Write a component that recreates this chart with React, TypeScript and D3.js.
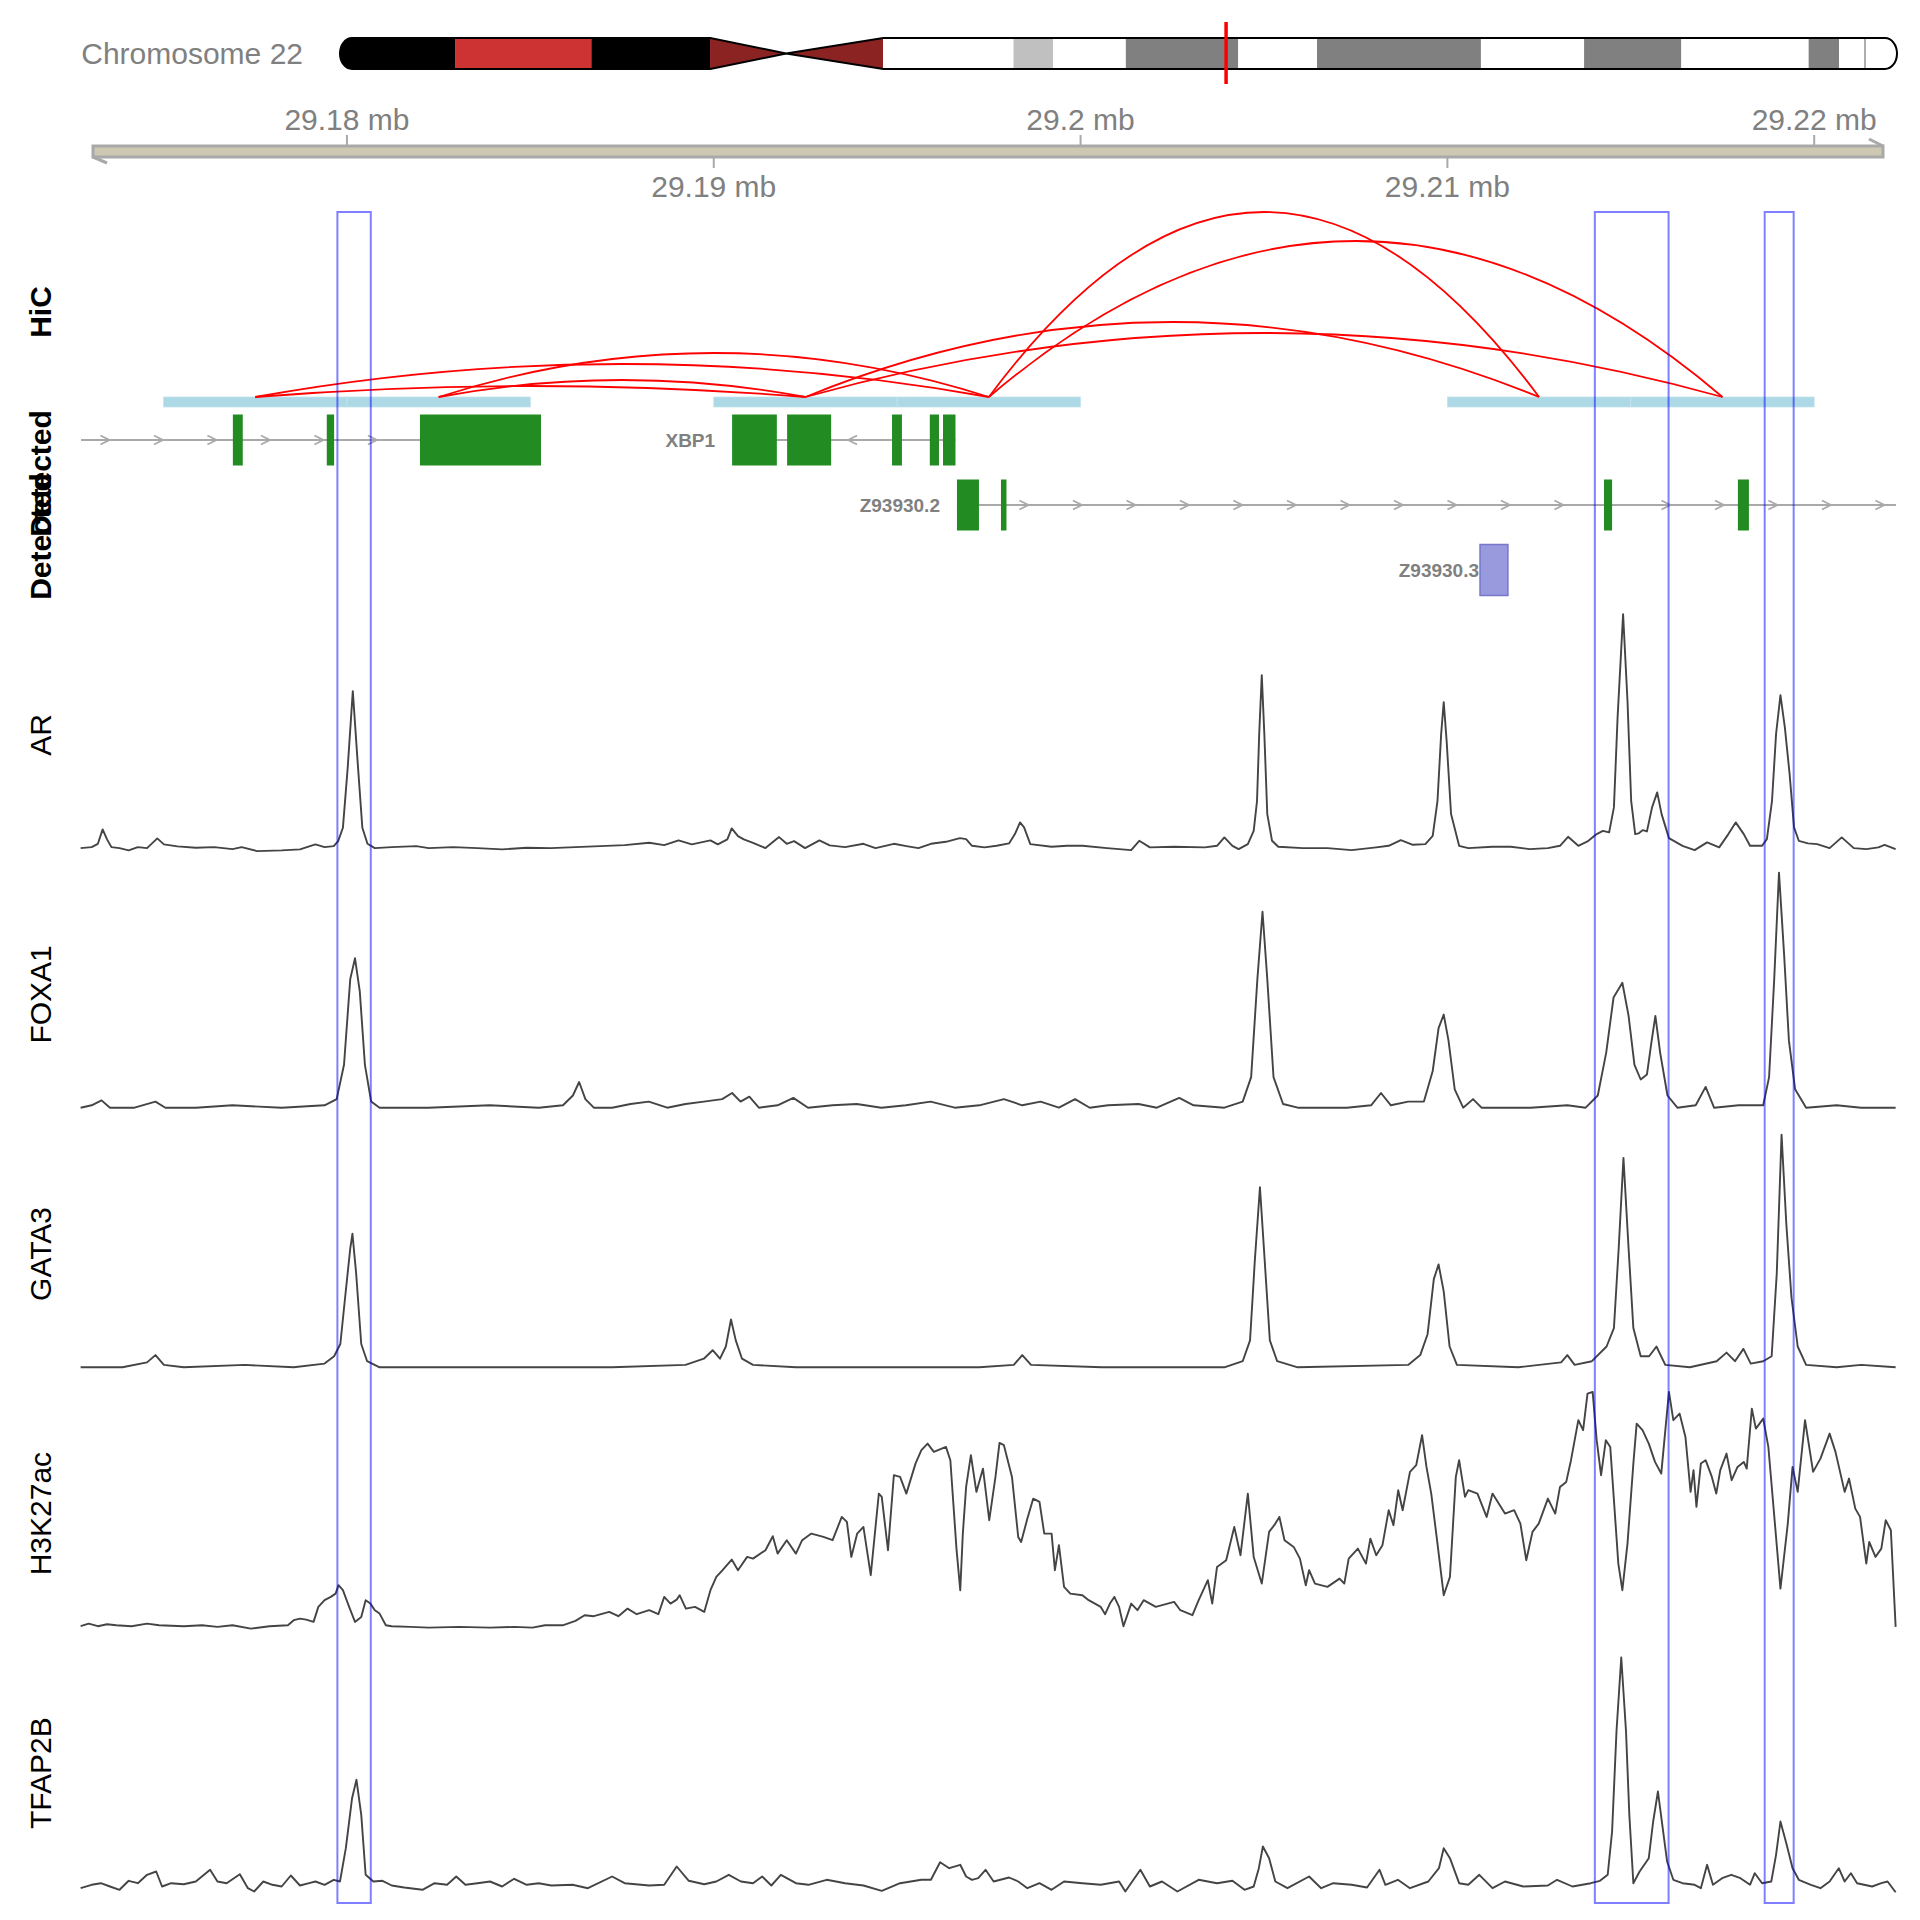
import React from "react";
import * as d3 from "d3";

// ---------------- data ----------------
// genomic window shown (kb on chr22)
const VIEW_START_KB = 29172.75;
const VIEW_END_KB = 29222.23;

// chromosome 22 ideogram bands (Mb, hg19)
const CHR_NAME = "Chromosome 22";
const CHR_LENGTH_MB = 51.304566;
const BAND_STARTS = [0, 3.8, 8.3, 12.2, 14.7, 17.9, 22.2, 23.5, 25.9, 29.6, 32.2, 37.6, 41.0, 44.2, 48.4, 49.4];
const BAND_ENDS = [3.8, 8.3, 12.2, 14.7, 17.9, 22.2, 23.5, 25.9, 29.6, 32.2, 37.6, 41.0, 44.2, 48.4, 49.4, 51.304566];
const BAND_STAINS = ["gvar", "stalk", "gvar", "acen", "acen", "gneg", "gpos25", "gneg", "gpos50", "gneg", "gpos50", "gneg", "gpos50", "gneg", "gpos50", "gneg"];

// axis ticks (Mb)
const AXIS_TICKS_MB = [29.18, 29.19, 29.2, 29.21, 29.22];
const AXIS_TICK_LABELS = ["29.18 mb", "29.19 mb", "29.2 mb", "29.21 mb", "29.22 mb"];

// HiC anchors (kb) and interactions (anchor index pairs + score)
const HIC_ANCHOR_STARTS = [29175, 29180, 29190, 29195, 29210, 29215];
const HIC_ANCHOR_ENDS = [29180, 29185, 29195, 29200, 29215, 29220];
const HIC_LINK_FROM = [0, 1, 0, 1, 2, 2, 3, 3];
const HIC_LINK_TO = [2, 2, 3, 3, 4, 5, 4, 5];
const HIC_LINK_SCORE = [11, 17, 33, 44, 75, 64, 185, 156];

// genes (kb)
const GENE_NAMES = ["CCDC117", "XBP1", "Z93930.2", "Z93930.3"];
const GENE_STRANDS = ["+", "-", "+", "+"];
const GENE_STARTS = [29168.66, 29190.5, 29196.63, 29210.89];
const GENE_ENDS = [29185.29, 29196.59, 29226.0, 29211.65];
const GENE_ROWS = [0, 0, 1, 2];
const GENE_EXONS: [number, number][][] = [
  [[29176.89, 29177.16], [29179.45, 29179.65], [29181.99, 29185.29]],
  [[29190.5, 29191.72], [29192.0, 29193.2], [29194.86, 29195.13], [29195.89, 29196.14], [29196.25, 29196.59]],
  [[29196.63, 29197.23], [29197.83, 29197.98], [29214.27, 29214.49], [29217.92, 29218.22]],
  [[29210.89, 29211.65]],
];
const GENE_TRACK_TITLES = ["Detected", "Detected"];

// highlighted regions (kb)
const HIGHLIGHT_STARTS = [29179.74, 29214.02, 29218.65];
const HIGHLIGHT_ENDS = [29180.65, 29216.03, 29219.44];

// signal tracks: [position (kb past chr22:29,170,000), signal]
const AR_SIGNAL: [number, number][] = [
  [2.74, 0], [3.04, 1], [3.21, 4.3], [3.34, 18.7], [3.46, 8.7], [3.58, 1], [3.8, 0], [4.05, -2.3], [4.3, 1], [4.55, 0],
  [4.83, 9.7], [5.01, 3.7], [5.38, 1.7], [5.88, 0.3], [6.38, 1], [6.88, -1], [7.13, 1], [7.55, -3], [8.22, -2.3], [8.72, -1.3],
  [9.14, 3.7], [9.39, 1], [9.64, 2], [9.76, 7], [9.89, 20.3], [10.02, 80], [10.16, 157], [10.29, 87], [10.42, 20.3], [10.56, 4.3],
  [10.76, 0], [11.22, 1], [11.89, 2], [12.23, 0], [12.89, 1], [13.56, 0], [14.23, -1.3], [14.9, 0.3], [15.56, 0], [16.23, 1],
  [16.9, 2], [17.57, 3], [18.24, 5.3], [18.65, 3], [19.04, 7.7], [19.4, 3.7], [19.91, 7.7], [20.11, 3.7], [20.37, 8.7], [20.49, 19.7],
  [20.66, 12], [20.82, 8.7], [21.07, 5.3], [21.41, 0], [21.78, 11], [21.99, 4.3], [22.19, 7], [22.49, 0], [22.88, 7.7], [23.16, 2.7],
  [23.58, 1], [24.08, 4.3], [24.41, 0], [24.91, 4.3], [25.25, 2], [25.58, 0], [25.92, 4.3], [26.33, 6.3], [26.71, 10], [26.88, 9],
  [27.04, 2.3], [27.38, 0.7], [27.71, 2.3], [28.05, 4.7], [28.21, 14], [28.35, 25.7], [28.46, 20.7], [28.63, 4], [29.21, 1.3], [29.63, 2.3],
  [30.05, 2.3], [30.72, 0], [31.38, -2], [31.6, 7.3], [31.89, 0.7], [32.55, 1.3], [33.39, 0.7], [33.72, 2.3], [33.92, 10.7], [34.14, 2.3],
  [34.31, -1], [34.56, 4], [34.72, 17.3], [34.81, 47], [34.87, 114], [34.94, 173], [35.01, 114], [35.09, 34], [35.22, 7.3], [35.39, 1.3],
  [36.06, 0], [36.73, 0], [37.39, -2], [38.06, 0.7], [38.4, 2.3], [38.73, 8], [39.06, 3.3], [39.4, 4], [39.6, 12.3], [39.73, 47],
  [39.83, 114], [39.9, 146], [39.98, 107], [40.1, 34], [40.32, 2.3], [40.57, 0], [41.23, 1.3], [41.73, 1.3], [42.24, -1], [42.74, 0],
  [43.07, 2.3], [43.29, 11.3], [43.57, 2.3], [43.82, 6.7], [44.07, 14], [44.24, 17.3], [44.41, 15.7], [44.54, 40.7], [44.64, 130.7], [44.79, 234],
  [44.91, 147.3], [45.01, 47.3], [45.12, 14], [45.21, 14.7], [45.33, 18], [45.44, 16.7], [45.58, 40.7], [45.72, 55.7], [45.84, 34], [46.04, 10],
  [46.41, 2.3], [46.74, -2], [47.08, 5.7], [47.41, 0.7], [47.66, 14], [47.86, 25.7], [48.08, 14], [48.25, 2.3], [48.58, 2.3], [48.71, 9],
  [48.85, 47.3], [48.96, 114], [49.08, 153], [49.2, 120.7], [49.33, 74], [49.45, 20.7], [49.58, 7.3], [49.83, 4.7], [50.08, 4], [50.42, 0],
  [50.75, 10.7], [51.08, 0], [51.42, -1], [51.75, 0.7], [51.92, 3.3], [52.22, -1],
];

const FOXA1_SIGNAL: [number, number][] = [
  [2.74, 0], [3.04, 2.4], [3.31, 7.3], [3.54, 0], [4.21, 0], [4.78, 6.1], [5.05, 0], [5.88, 0], [6.88, 2.4], [8.22, 0],
  [9.39, 2.4], [9.72, 8.6], [9.92, 42.9], [10.09, 128.6], [10.22, 149.4], [10.35, 116.3], [10.49, 42.9], [10.66, 6.1], [10.89, 0], [12.22, 0],
  [13.89, 2.4], [15.23, 0], [15.89, 2.4], [16.16, 12.2], [16.33, 25.7], [16.5, 8.6], [16.73, 0], [17.23, 0], [17.73, 3.7], [18.23, 6.1],
  [18.73, 0], [19.23, 3.7], [19.73, 6.1], [20.23, 8.6], [20.5, 14.7], [20.73, 6.1], [20.97, 11], [21.23, 0], [21.74, 2.4], [22.17, 9.8],
  [22.57, 0], [23.24, 2.4], [23.9, 3.7], [24.57, 0], [25.24, 2.4], [25.91, 6.1], [26.57, 0], [27.24, 2.4], [27.91, 8.6], [28.41, 2.4],
  [28.91, 6.1], [29.41, 0], [29.85, 8.6], [30.25, 0], [30.75, 2.4], [31.58, 3.7], [32.08, 0], [32.69, 9.8], [33.08, 2.4], [33.92, 0],
  [34.42, 6.1], [34.65, 30.6], [34.82, 128.6], [34.96, 195.9], [35.09, 128.6], [35.26, 30.6], [35.52, 3.7], [35.92, 0], [37.26, 0], [37.92, 2.4],
  [38.19, 14.7], [38.46, 2.4], [38.93, 6.1], [39.36, 6.1], [39.6, 36.7], [39.76, 79.6], [39.9, 93.1], [40.03, 67.3], [40.2, 18.4], [40.43, 0],
  [40.7, 8.6], [40.93, 0], [42.27, 0], [43.27, 2.4], [43.77, 0], [44.1, 12.2], [44.33, 55.1], [44.53, 110.2], [44.77, 124.9], [44.94, 91.8],
  [45.1, 42.9], [45.27, 28.2], [45.44, 33.1], [45.57, 67.3], [45.67, 91.8], [45.8, 55.1], [46.0, 12.2], [46.27, 0], [46.77, 2.4], [47.04, 20.8],
  [47.27, 0], [47.94, 2.4], [48.61, 2.4], [48.77, 30.6], [48.91, 128.6], [49.04, 235.1], [49.18, 153.1], [49.31, 67.3], [49.48, 18.4], [49.78, 0],
  [50.61, 2.4], [51.28, 0], [52.22, 0],
];

const GATA3_SIGNAL: [number, number][] = [
  [2.74, 0], [3.88, 0], [4.55, 4.9], [4.78, 12.2], [5.01, 2.4], [5.55, 0], [7.22, 2.4], [8.55, 0], [9.39, 3.7], [9.65, 11],
  [9.82, 23.3], [9.95, 69.8], [10.09, 118.8], [10.15, 133.5], [10.25, 94.3], [10.39, 23.3], [10.55, 6.1], [10.89, 0], [13.89, 0], [17.23, 0],
  [19.23, 2.4], [19.73, 8.6], [19.97, 17.1], [20.17, 8.6], [20.33, 20.8], [20.47, 47.8], [20.6, 26.9], [20.77, 8.6], [21.07, 2.4], [22.24, 0],
  [23.91, 0], [27.24, 0], [28.18, 2.4], [28.41, 12.2], [28.65, 2.4], [30.58, 0], [33.92, 0], [34.42, 6.1], [34.62, 26.9], [34.75, 106.5],
  [34.89, 180], [35.02, 106.5], [35.16, 26.9], [35.36, 6.1], [35.92, 0], [38.93, 2.4], [39.26, 12.2], [39.46, 33.1], [39.63, 88.2], [39.76, 102.9],
  [39.9, 75.9], [40.06, 20.8], [40.26, 2.4], [41.93, 0], [43.1, 4.9], [43.27, 12.2], [43.47, 2.4], [43.94, 6.1], [44.34, 20.8], [44.54, 39.2],
  [44.67, 118.8], [44.8, 209.4], [44.94, 118.8], [45.07, 39.2], [45.27, 11], [45.5, 11], [45.7, 20.8], [45.94, 2.4], [46.61, 0], [47.34, 6.1],
  [47.61, 14.7], [47.84, 6.1], [48.07, 18.4], [48.27, 3.7], [48.61, 6.1], [48.84, 11], [48.98, 94.3], [49.11, 232.7], [49.24, 143.3], [49.38, 69.8],
  [49.55, 20.8], [49.78, 2.4], [50.61, 0], [51.28, 2.4], [52.22, 0],
];

const H3K27AC_SIGNAL: [number, number][] = [
  [2.74, 0.7], [2.96, 3.3], [3.21, 0.7], [3.46, 2.7], [3.71, 1.7], [4.13, 0.7], [4.55, 3.3], [4.88, 1.7], [5.55, 0.7], [6.05, 1.7],
  [6.47, 0], [6.88, 1.7], [7.38, -1.7], [7.89, 0.7], [8.39, 1.7], [8.55, 6.7], [8.72, 8.3], [8.89, 7.3], [9.09, 5], [9.22, 20],
  [9.39, 26.7], [9.56, 30], [9.69, 33.3], [9.77, 41.7], [9.89, 36.7], [10.06, 20], [10.22, 5], [10.39, 10], [10.51, 26.7], [10.64, 23.3],
  [10.76, 16.7], [10.89, 13.3], [11.06, 1.7], [11.22, 0.7], [11.73, 0], [12.23, -0.7], [13.06, 0], [13.9, -0.7], [14.56, 0], [15.06, -0.7],
  [15.4, 1.7], [15.9, 1.7], [16.23, 6], [16.48, 11.7], [16.73, 10.7], [17.15, 15], [17.4, 10.7], [17.65, 18.3], [17.9, 12.7], [18.24, 16.7],
  [18.49, 12.7], [18.65, 30], [18.82, 23.3], [18.99, 27.3], [19.07, 31.7], [19.24, 18.3], [19.49, 20], [19.74, 15], [19.91, 36.7], [20.07, 50],
  [20.24, 56.7], [20.49, 67.3], [20.66, 56.7], [20.91, 70], [21.07, 68.3], [21.41, 76.7], [21.61, 90.7], [21.74, 73.3], [21.99, 86.7], [22.24, 73.3],
  [22.41, 86.7], [22.66, 93.3], [22.99, 90], [23.24, 86.7], [23.49, 110], [23.63, 105], [23.75, 70], [23.91, 93.3], [24.08, 100], [24.28, 51.7],
  [24.5, 133.3], [24.58, 130], [24.75, 76.7], [24.91, 151.7], [25.08, 150], [25.25, 133.3], [25.5, 163.3], [25.66, 176.7], [25.83, 183.3], [26.0, 175],
  [26.33, 180], [26.45, 166.7], [26.62, 76.7], [26.72, 36.7], [26.79, 93.3], [26.88, 140], [27.01, 171.7], [27.16, 135], [27.34, 158.3], [27.51, 106.7],
  [27.68, 150], [27.79, 184], [27.91, 181.7], [28.13, 150], [28.3, 90], [28.38, 85], [28.55, 108.3], [28.71, 128.3], [28.88, 125], [29.01, 93.3],
  [29.21, 93.3], [29.3, 56.7], [29.41, 81.7], [29.55, 40], [29.72, 33.3], [30.05, 31.7], [30.22, 26.7], [30.55, 20], [30.67, 12.7], [30.8, 23.3],
  [30.92, 30], [31.05, 20], [31.17, 0.7], [31.38, 23.3], [31.55, 16.7], [31.72, 26.7], [32.05, 20], [32.55, 25], [32.72, 16.7], [33.05, 11.7],
  [33.22, 26.7], [33.47, 46.7], [33.59, 23.3], [33.72, 60], [33.97, 66.7], [34.19, 100], [34.36, 71.7], [34.56, 133.3], [34.72, 70], [34.94, 43.3],
  [35.14, 95], [35.31, 103.3], [35.42, 110], [35.56, 86.7], [35.81, 80], [35.98, 68.3], [36.14, 41.7], [36.23, 56.7], [36.39, 43.3], [36.73, 40],
  [37.06, 48.3], [37.19, 43.3], [37.31, 68.3], [37.56, 78.3], [37.78, 63.3], [37.9, 88.3], [38.06, 71.7], [38.23, 81.7], [38.4, 116.7], [38.53, 101.7],
  [38.66, 136.7], [38.78, 116.7], [38.98, 155], [39.15, 161.7], [39.31, 191.7], [39.43, 160], [39.56, 133.3], [39.73, 83.3], [39.9, 31.7], [40.07, 50],
  [40.23, 150], [40.32, 166.7], [40.48, 130], [40.57, 136.7], [40.82, 133.3], [41.07, 110], [41.23, 133.3], [41.4, 123.3], [41.57, 113.3], [41.82, 116.7],
  [41.99, 103.3], [42.15, 66.7], [42.32, 95], [42.49, 103.3], [42.74, 128.3], [42.94, 113.3], [43.07, 140], [43.24, 145], [43.37, 166.7], [43.57, 206.7],
  [43.7, 196.7], [43.82, 233.3], [43.96, 235], [44.07, 186.7], [44.19, 151.7], [44.32, 186.7], [44.44, 180], [44.66, 63.3], [44.77, 36.7], [44.91, 83.3],
  [45.07, 163.3], [45.16, 203.3], [45.32, 196.7], [45.49, 183.3], [45.66, 165], [45.83, 153.3], [46.04, 235], [46.16, 206.7], [46.33, 213.3], [46.49, 190],
  [46.63, 135], [46.71, 156.7], [46.79, 120], [46.91, 163.3], [47.04, 166.7], [47.21, 150], [47.33, 133.3], [47.44, 156.7], [47.61, 173.3], [47.75, 146.7],
  [47.91, 160], [48.08, 165], [48.16, 158.3], [48.3, 218.3], [48.41, 198.3], [48.61, 208.3], [48.75, 180], [49.08, 38.3], [49.28, 103.3], [49.41, 160],
  [49.55, 135], [49.75, 206.7], [49.97, 155], [50.17, 168.3], [50.42, 193.3], [50.58, 175], [50.83, 135], [50.95, 148.3], [51.12, 118.3], [51.25, 110],
  [51.42, 63.3], [51.5, 85], [51.67, 70], [51.83, 78.3], [51.95, 106.7], [52.09, 96.7], [52.22, 0],
];

const TFAP2B_SIGNAL: [number, number][] = [
  [2.74, -1.7], [3.04, 1.7], [3.29, 3.3], [3.54, 0], [3.8, -3.3], [4.05, 5.7], [4.3, 3.3], [4.55, 11.7], [4.8, 15], [4.96, 0],
  [5.21, 3.3], [5.55, 2.3], [5.88, 5], [6.27, 16.7], [6.47, 5], [6.72, 3.3], [7.08, 12.3], [7.3, -1.7], [7.47, -5], [7.72, 5],
  [7.97, 1.7], [8.22, 0], [8.47, 11], [8.72, 1], [8.97, 3.3], [9.14, 5], [9.39, 1.7], [9.64, 6.7], [9.81, 5], [9.97, 38.3],
  [10.14, 88.3], [10.26, 106.7], [10.39, 71.7], [10.51, 11.7], [10.72, 5], [10.97, 5.7], [11.22, 1], [11.56, -1], [12.06, -3.3], [12.39, 3.3],
  [12.73, 1.7], [12.98, 10], [13.23, 1.7], [13.56, 3.3], [13.9, 5], [14.23, 0], [14.56, 7.7], [14.9, 1.7], [15.23, 3.3], [15.57, 1],
  [16.15, 1.7], [16.57, -1.7], [17.23, 10], [17.57, 3.3], [18.24, 1], [18.65, 1.7], [18.99, 20], [19.32, 5.7], [19.74, 2.3], [20.07, 5],
  [20.41, 11.7], [20.74, 5], [21.07, 3.3], [21.32, 10], [21.57, 1], [21.83, 11.7], [22.24, 3.3], [22.58, 1.7], [23.08, 6.7], [23.58, 3.3],
  [24.08, 1], [24.58, -4.3], [25.08, 3.3], [25.66, 6.7], [25.92, 6.7], [26.17, 24.3], [26.42, 18.3], [26.72, 21.7], [26.88, 10], [27.04, 6.7],
  [27.21, 8.3], [27.41, 16.7], [27.63, 5], [28.05, 9], [28.3, 5], [28.55, -1.7], [28.88, 3.3], [29.21, -3.3], [29.55, 5], [30.05, 3.3],
  [30.55, 1.7], [31.05, 5], [31.22, -5], [31.63, 16.7], [31.89, 0], [32.22, 5], [32.64, -5], [33.22, 6.7], [33.72, 3.3], [34.14, 5.7],
  [34.47, -3.3], [34.72, 0], [34.86, 18.3], [34.97, 40], [35.14, 28.3], [35.31, 5], [35.64, -1.7], [36.23, 10], [36.56, -1.7], [36.89, 3.3],
  [37.39, 1.7], [37.81, -1], [38.15, 16.7], [38.31, 1.7], [38.65, 6.7], [38.98, -1.7], [39.48, 5], [39.77, 18.3], [39.9, 38.3], [40.07, 28.3],
  [40.32, 3.3], [40.57, 1.7], [40.87, 11.7], [41.23, -1.7], [41.57, 5], [42.07, 0], [42.74, 1], [42.99, 6.7], [43.41, 0], [43.91, 3.3],
  [44.16, 5.7], [44.37, 11.7], [44.49, 55], [44.61, 155], [44.74, 229], [44.87, 155], [44.96, 71.7], [45.07, 3.3], [45.24, 15], [45.49, 28.3],
  [45.61, 65], [45.74, 95], [45.87, 58.3], [45.99, 25], [46.16, 6.7], [46.41, 3.3], [46.74, 1.7], [46.91, -1.7], [47.08, 21.7], [47.24, 1.7],
  [47.49, 8.3], [47.74, 11.7], [47.99, 8.3], [48.25, 1.7], [48.38, 13.3], [48.58, 3.3], [48.83, 5], [48.96, 31.7], [49.08, 65], [49.25, 41.7],
  [49.41, 18.3], [49.58, 6.7], [49.91, 1.7], [50.17, -1.7], [50.42, 5], [50.67, 18.3], [50.83, 5], [51.0, 13.3], [51.17, 3.3], [51.58, 0],
  [51.83, 3.3], [52.0, 5], [52.22, -5.7],
];

const SIGNAL_NAMES = ["AR", "FOXA1", "GATA3", "H3K27ac", "TFAP2B"];
const SIGNALS = [AR_SIGNAL, FOXA1_SIGNAL, GATA3_SIGNAL, H3K27AC_SIGNAL, TFAP2B_SIGNAL];
const SIGNAL_OFFSET_KB = 29170;

// ---------------- styles / layout ----------------
const FONT = "'Liberation Sans', Arial, Helvetica, sans-serif";
const STAIN_COLORS: Record<string, string> = {
  gneg: "#FFFFFF", gpos25: "#C0C0C0", gpos50: "#808080", gpos75: "#404040", gpos100: "#000000",
  gvar: "#000000", stalk: "#CD3333", acen: "#8B2323",
};
const TRACK_X0 = 81;
const TRACK_X1 = 1896;

export default function App() {
  const x = d3.scaleLinear().domain([VIEW_START_KB, VIEW_END_KB]).range([TRACK_X0, TRACK_X1]);
  const chrX = d3.scaleLinear().domain([0, CHR_LENGTH_MB]).range([340, 1897]);

  // ---- ideogram ----
  const chrTop = 38, chrBot = 69, chrMid = (chrTop + chrBot) / 2;
  const capRx = 12, capRy = (chrBot - chrTop) / 2;
  const acenIdx = BAND_STAINS.map((s, i) => (s === "acen" ? i : -1)).filter((i) => i >= 0);
  const a0 = chrX(BAND_STARTS[acenIdx[0]]);
  const am = chrX(BAND_ENDS[acenIdx[0]]);
  const a1 = chrX(BAND_ENDS[acenIdx[acenIdx.length - 1]]);
  const L = chrX(0), R = chrX(CHR_LENGTH_MB);
  const chrPath = `M${L + capRx},${chrTop} L${a0},${chrTop} L${am},${chrMid} L${a1},${chrTop} L${R - capRx},${chrTop} A${capRx},${capRy} 0 0 1 ${R - capRx},${chrBot} L${a1},${chrBot} L${am},${chrMid} L${a0},${chrBot} L${L + capRx},${chrBot} A${capRx},${capRy} 0 0 1 ${L + capRx},${chrTop} Z`;
  const winX0 = chrX(VIEW_START_KB / 1000);
  const winX1 = chrX(VIEW_END_KB / 1000);

  // ---- axis ----
  const axX0 = TRACK_X0 + 12, axX1 = TRACK_X1 - 13;
  const axTop = 146, axBot = 157;

  // ---- HiC ----
  const hicBase = 397;
  const hicH = d3.scaleLinear().domain([0, d3.max(HIC_LINK_SCORE) as number]).range([0, 185]);
  const anchorMid = (i: number) => x((HIC_ANCHOR_STARTS[i] + HIC_ANCHOR_ENDS[i]) / 2);

  // ---- genes ----
  const rowY = [440, 505, 570];
  const exonH = 51;
  const arrowStep = 53.5, arrowPhase = 13.5, arrowHalf = 4.5;
  const labelGap: Record<string, number> = { "Z93930.3": 1 };

  // ---- signals ----
  const panelTop = 605, panelH = 259.6;

  const clampX = (v: number) => Math.max(TRACK_X0, Math.min(TRACK_X1, v));

  return (
    <div style={{ position: "absolute", left: 0, top: 0, width: 1920, height: 1920, background: "#fff" }}>
      <svg width={1920} height={1920} viewBox="0 0 1920 1920" style={{ display: "block", fontFamily: FONT }}>
        <defs>
          <clipPath id="chrClip">
            <path d={chrPath} />
          </clipPath>
          <clipPath id="trackClip">
            <rect x={TRACK_X0} y={0} width={TRACK_X1 - TRACK_X0} height={1920} />
          </clipPath>
        </defs>
        <rect x={0} y={0} width={1920} height={1920} fill="#ffffff" />

        {/* ideogram */}
        <text x={303} y={63.5} fontSize={30} fill="#808080" textAnchor="end">{CHR_NAME}</text>
        <g clipPath="url(#chrClip)">
          {BAND_STARTS.map((s, i) => (
            <rect key={i} x={chrX(s) - 0.2} y={chrTop - 1} width={chrX(BAND_ENDS[i]) - chrX(s) + 0.4} height={chrBot - chrTop + 2}
              fill={STAIN_COLORS[BAND_STAINS[i]]} />
          ))}
        </g>
        <line x1={R - 32} x2={R - 32} y1={chrTop} y2={chrBot} stroke="#333" strokeWidth={0.8} />
        <path d={chrPath} fill="none" stroke="#000" strokeWidth={2} />
        <rect x={winX0} y={23} width={Math.max(winX1 - winX0, 1)} height={60} fill="none" stroke="#ff0000" strokeWidth={2} />

        {/* genome axis */}
        <rect x={axX0} y={axTop} width={axX1 - axX0} height={axBot - axTop} fill="#CDC8B1" stroke="#A9A9A9" strokeWidth={3} />
        <line x1={axX0} y1={axBot} x2={axX0 + 14} y2={axBot + 6} stroke="#A9A9A9" strokeWidth={3} />
        <line x1={axX1} y1={axTop} x2={axX1 - 14} y2={axTop - 7} stroke="#A9A9A9" strokeWidth={3} />
        {AXIS_TICKS_MB.map((t, i) => {
          const tx = x(t * 1000);
          const up = i % 2 === 0;
          return (
            <g key={t}>
              <line x1={tx} x2={tx} y1={up ? axTop - 11 : axBot} y2={up ? axTop : axBot + 11} stroke="#A9A9A9" strokeWidth={2} />
              <text x={tx} y={up ? 129.5 : 196.5} fontSize={30} fill="#808080" textAnchor="middle">{AXIS_TICK_LABELS[i]}</text>
            </g>
          );
        })}

        {/* HiC track */}
        <text transform={`translate(51,312) rotate(-90)`} fontSize={30} fontWeight="bold" fill="#000" textAnchor="middle">HiC</text>
        {HIC_ANCHOR_STARTS.map((s, i) => (
          <rect key={i} x={x(s)} y={hicBase} width={x(HIC_ANCHOR_ENDS[i]) - x(s)} height={10} fill="#ADD8E6" stroke="#C4E3EE" strokeWidth={0.8} />
        ))}
        {HIC_LINK_FROM.map((f, i) => {
          const xa = anchorMid(f), xb = anchorMid(HIC_LINK_TO[i]);
          const h = hicH(HIC_LINK_SCORE[i]);
          const d = `M${xa},${hicBase} Q${(xa + xb) / 2},${hicBase - 2 * h} ${xb},${hicBase}`;
          return <path key={i} d={d} fill="none" stroke="#ff0000" strokeWidth={1.8} />;
        })}

        {/* gene tracks */}
        {GENE_TRACK_TITLES.map((t, i) => (
          <text key={i} transform={`translate(51,${473.5 + i * 63}) rotate(-90)`} fontSize={30} fontWeight="bold" fill="#000" textAnchor="middle">{t}</text>
        ))}
        <g clipPath="url(#trackClip)">
          {GENE_NAMES.map((name, gi) => {
            const y = rowY[GENE_ROWS[gi]];
            const exons = GENE_EXONS[gi];
            const gx0 = x(GENE_STARTS[gi]), gx1 = x(GENE_ENDS[gi]);
            const isNovel = exons.length === 1;
            const arrows: number[] = [];
            if (!isNovel) {
              for (let p = gx0 + arrowPhase; p < gx1; p += arrowStep) {
                if (p < TRACK_X0 || p > TRACK_X1) continue;
                const inExon = exons.some(([s, e]) => p + arrowHalf + 2 > x(s) && p - arrowHalf - 2 < x(e));
                if (!inExon) arrows.push(p);
              }
            }
            const dir = GENE_STRANDS[gi] === "+" ? 1 : -1;
            const gap = labelGap[name] ?? 17;
            return (
              <g key={name}>
                {!isNovel && (
                  <line x1={clampX(gx0)} x2={clampX(gx1)} y1={y} y2={y} stroke="#A9A9A9" strokeWidth={2} />
                )}
                {arrows.map((p, k) => (
                  <path key={k} d={`M${p - dir * arrowHalf},${y - arrowHalf} L${p + dir * arrowHalf},${y} L${p - dir * arrowHalf},${y + arrowHalf}`}
                    fill="none" stroke="#A9A9A9" strokeWidth={1.8} />
                ))}
                {exons.map(([s, e], k) => (
                  <rect key={k} x={x(s)} y={y - exonH / 2} width={Math.max(x(e) - x(s), 1)} height={exonH}
                    fill={isNovel ? "#9999DD" : "#228B22"} stroke={isNovel ? "#7777CC" : "none"} strokeWidth={isNovel ? 1.5 : 0} />
                ))}
                {gx0 - gap > TRACK_X0 && (
                  <text x={x(exons[0][0]) - gap} y={y + 7} fontSize={19} fontWeight="bold" fill="#808080" textAnchor="end">{name}</text>
                )}
              </g>
            );
          })}
        </g>

        {/* signal tracks */}
        {SIGNAL_NAMES.map((name, i) => {
          const top = panelTop + i * panelH;
          const base = top + panelH - 16.5;
          const y = d3.scaleLinear().domain([0, 240]).range([base, base - 240]);
          const line = d3.line<[number, number]>().x((d) => x(SIGNAL_OFFSET_KB + d[0])).y((d) => y(d[1]));
          return (
            <g key={name}>
              <text transform={`translate(51,${top + panelH / 2}) rotate(-90)`} fontSize={30} fill="#000" textAnchor="middle">{name}</text>
              <path d={line(SIGNALS[i]) || ""} fill="none" stroke="#444444" strokeWidth={1.9} strokeLinejoin="round" />
            </g>
          );
        })}

        {/* highlight regions */}
        {HIGHLIGHT_STARTS.map((s, i) => (
          <rect key={i} x={x(s)} y={212} width={x(HIGHLIGHT_ENDS[i]) - x(s)} height={1903 - 212}
            fill="none" stroke="#0000ff" strokeOpacity={0.5} strokeWidth={2} />
        ))}
      </svg>
    </div>
  );
}
